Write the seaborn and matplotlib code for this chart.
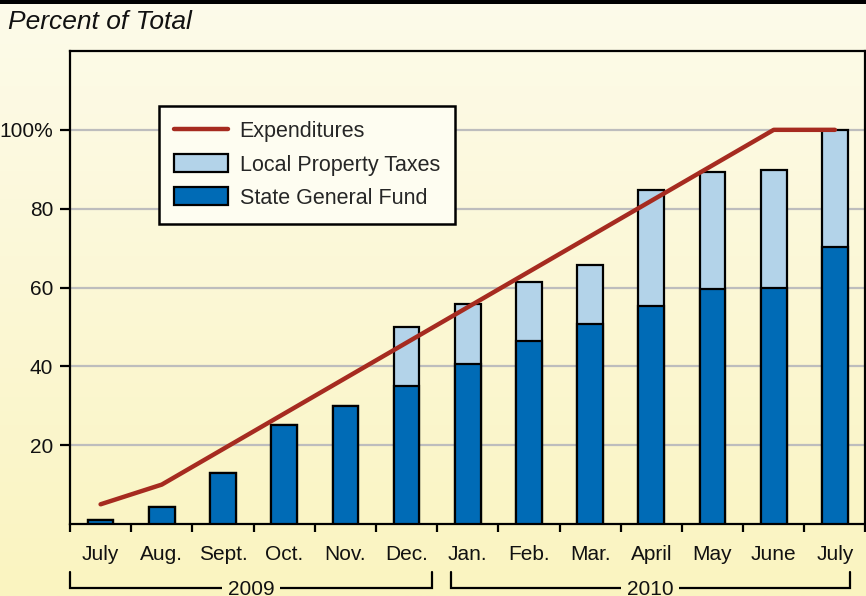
import numpy as np
import pandas as pd
import matplotlib
matplotlib.use("Agg")
import matplotlib.pyplot as plt
from matplotlib.patches import Patch, Rectangle
from matplotlib.lines import Line2D
import seaborn as sns

# ---- data ----
months = ["July", "Aug.", "Sept.", "Oct.", "Nov.", "Dec.", "Jan.", "Feb.", "Mar.",
          "April", "May", "June", "July"]
keys = [f"m{i}" for i in range(len(months))]
state_fund = [1, 4.4, 13, 25, 30, 35, 40.7, 46.4, 50.8, 55.2, 59.6, 60, 70.4]
total_pct = [1, 4.4, 13, 25, 30, 50.1, 55.8, 61.3, 65.7, 84.8, 89.3, 89.7, 100]
expenditures = [5, 10, 19, 28, 37, 46, 55, 64, 73, 82, 91, 100, 100]
ytick_vals = [20, 40, 60, 80, 100]
ytick_labels = ["20", "40", "60", "80", "100%"]
years = ["2009", "2010"]

C_LIGHT = "#B3D3E9"
C_DARK = "#006BB6"
C_LINE = "#A62B20"
C_GRID = "#BDBDBD"

sns.set_theme(style="white")
plt.rcParams["font.family"] = ["Liberation Sans", "DejaVu Sans"]

df = pd.DataFrame({"key": keys, "state": state_fund, "total": total_pct})

fig = plt.figure(figsize=(8.66, 5.96), dpi=100)

# gradient background
bg = fig.add_axes([0, 0, 1, 1], zorder=-10)
top = np.array([0xFD, 0xFB, 0xEA]) / 255
bot = np.array([0xFA, 0xF4, 0xC0]) / 255
t = np.linspace(0, 1, 256)[:, None]
grad = (top[None, :] * (1 - t) + bot[None, :] * t)[:, None, :]
bg.imshow(grad, aspect="auto", extent=[0, 1, 0, 1])
bg.set_axis_off()
fig.patches.append(Rectangle((0, 1 - 4 / 596), 1, 4 / 596, transform=fig.transFigure,
                             facecolor="black", edgecolor="none", zorder=5))

ax = fig.add_axes([70 / 866, 1 - 524 / 596, 795.5 / 866, 473 / 596])
ax.set_facecolor("none")

sns.barplot(data=df, x="key", y="total", color=C_LIGHT, width=0.42, edgecolor="black",
            linewidth=1.6, saturation=1, ax=ax, zorder=3)
sns.barplot(data=df, x="key", y="state", color=C_DARK, width=0.42, edgecolor="black",
            linewidth=1.6, saturation=1, ax=ax, zorder=4)
sns.lineplot(x=np.arange(len(months)), y=expenditures, color=C_LINE, linewidth=3.2,
             ax=ax, zorder=5)

ax.set_xlim(-0.5, len(months) - 0.5)
ax.set_ylim(0, 120)
ax.set_xlabel("")
ax.set_ylabel("")

for v in ytick_vals:
    ax.axhline(v, color=C_GRID, linewidth=1.6, zorder=1)

ax.set_yticks(ytick_vals)
ax.set_yticklabels(ytick_labels, fontsize=15)
ax.set_xticks(np.arange(len(months) + 1) - 0.5)
ax.set_xticklabels([])
ax.set_xticks(np.arange(len(months)), minor=True)
ax.set_xticklabels(months, minor=True, fontsize=15)
ax.tick_params(axis="x", which="major", direction="out", length=6, width=1.6,
               color="black", bottom=True)
ax.tick_params(axis="x", which="minor", length=0, pad=15, labelcolor="#111111")
ax.tick_params(axis="y", direction="out", length=7, width=1.6, color="black", left=True,
               pad=5, labelcolor="#111111")
for s in ax.spines.values():
    s.set_visible(True)
    s.set_color("black")
    s.set_linewidth(1.6)

# year brackets
tr = ax.get_xaxis_transform()
y_line = -(588 - 524) / 473
y_top = -(572 - 524) / 473
for (x0, x1), yr in zip([(-0.5, 5.41), (5.72, 12.24)], years):
    ax.plot([x0, x0, x1, x1], [y_top, y_line, y_line, y_top], color="black",
            linewidth=1.6, transform=tr, clip_on=False, solid_joinstyle="miter")
    ax.text((x0 + x1) / 2, y_line - 0.004, yr, transform=tr, ha="center", va="center",
            fontsize=15, color="#111111",
            bbox=dict(facecolor="#FAF4C1", edgecolor="none", pad=4))

# title
fig.text(8 / 866, 1 - 22 / 596, "Percent of Total", fontsize=19, style="italic",
         ha="left", va="center", color="#111111")

handles = [Line2D([0], [0], color=C_LINE, linewidth=3.2),
           Patch(facecolor=C_LIGHT, edgecolor="black", linewidth=1.6),
           Patch(facecolor=C_DARK, edgecolor="black", linewidth=1.6)]
labels = ["Expenditures", "Local Property Taxes", "State General Fund"]
leg = ax.legend(handles, labels, loc="upper left",
                bbox_to_anchor=(159 / 866, 1 - 106 / 596), bbox_transform=fig.transFigure,
                borderaxespad=0, fontsize=15.5, frameon=True, fancybox=False,
                handlelength=2.5, handleheight=0.9, handletextpad=0.55,
                labelspacing=0.55, borderpad=0.7)
leg.get_frame().set_edgecolor("black")
leg.get_frame().set_linewidth(1.8)
leg.get_frame().set_facecolor("#FEFDF1")
leg.get_frame().set_alpha(1)
leg.set_zorder(10)

fig.savefig("out.png", dpi=100)
